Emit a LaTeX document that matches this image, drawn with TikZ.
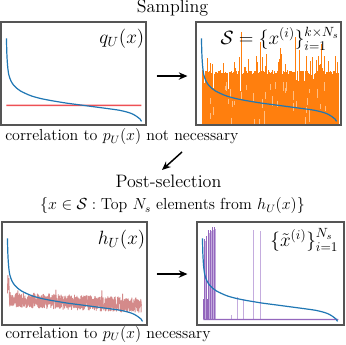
\documentclass[tikz,border=0pt]{standalone}
\usepackage{amsmath,amssymb}
\usetikzlibrary{arrows.meta}
\definecolor{tblue}{HTML}{1F77B4}
\definecolor{torange}{HTML}{FF7F0E}
\definecolor{torangel}{RGB}{255,190,130}
\definecolor{tpurple}{HTML}{9467BD}
\definecolor{tpurplel}{RGB}{196,172,222}
\definecolor{tnoise}{RGB}{212,138,138}
\definecolor{myred}{RGB}{238,80,85}
\definecolor{framec}{RGB}{85,85,85}
\newcommand{\bluecurve}{\draw[bcurve] plot[smooth,tension=0.5] coordinates {(6,17) (6.3,30) (6.8,40) (7.5,48) (8.5,54) (10.5,59.5) (13,63.5) (16,66.5) (20,69.5) (25,72) (31,74.5) (40,77) (50,79) (65,81.5) (80,83.5) (95,85.5) (110,87.5) (120,89) (128,91) (133,93) (137,95.5) (139.5,97.5) (141,100)};}
\tikzset{
  panel/.style={draw=framec, line width=0.8pt, inner sep=0pt, minimum width=108.75pt, minimum height=77.25pt},
  arr/.style={-{Stealth[length=6.5pt,width=5.5pt]}, line width=1.1pt, draw=black, fill=black},
  bcurve/.style={draw=tblue, line width=0.9pt},
  obar/.style={draw=torange, line width=0.42pt},
  obarl/.style={draw=torangel, line width=0.42pt},
  pdark/.style={draw=tpurple, line width=0.9pt},
  plight/.style={draw=tpurplel, line width=0.9pt},
  headf/.style={font=\fontsize{13.5}{16}\selectfont},
  capf/.style={font=\fontsize{12}{14}\selectfont},
  lblf/.style={font=\fontsize{14}{16}\selectfont, inner sep=0pt},
}
\begin{document}
\begin{tikzpicture}[x=0.75pt,y=-0.75pt]
\useasboundingbox (0,0) rectangle (346,345);
\fill[white] (0,0) rectangle (346,345);
% panels
\node[panel] (tl) at (73.5,73.5) {};
\node[panel] (tr) at (268.5,73.5) {};
\node[panel] (bl) at (74.5,273.5) {};
\node[panel, minimum width=110.25pt] (br) at (270.5,273.5) {};

% top-left content
\begin{scope}[shift={(tl.north west)}]
  \draw[color=myred, line width=1.1pt] (6,84) -- (141,84.01);
  \bluecurve
\end{scope}

% top-right content
\begin{scope}[shift={(tr.north west)}]
  \clip (0.5,0.5) rectangle (144.5,102.5);
  \pgfmathsetseed{11}
  \foreach \i in {0,...,226}{
    \pgfmathsetmacro\myrr{rnd}
    \pgfmathsetmacro\myrs{rnd}
    \pgfmathsetmacro\mytop{max(1,min(101,102.5-(50+4*\myrs-(\myrr<0.2)*28*\myrs+(\myrr>0.78)*14*\myrs+(\myrr>0.92)*26*\myrs+(\myrr>0.985)*30)))}
    \pgfmathsetmacro\myx{7+\i*0.6}
    \draw[obar] (\myx,102.5) -- (\myx,\mytop);
  }
  \foreach \i in {0,...,40}{
    \pgfmathsetmacro\myx{10+rnd*130}
    \pgfmathsetmacro\mya{60+rnd*38}
    \draw[obarl] (\myx,\mya) -- (\myx,\mya+4+rnd*6);
  }
  \bluecurve
\end{scope}

% bottom-left content
\begin{scope}[shift={(bl.north west)}]
  \pgfmathsetseed{5}
  \draw[draw=tnoise, line width=0.65pt, line join=round] (6,72) -- (6.4,54) -- (6.9,68) -- (7.4,57) -- (7.9,76)
    \foreach \i in {1,...,880}{ -- ({7.9+\i*0.15},{78+6*\i/880+7.5*rand-(rnd>0.95)*8*rnd}) };
  \bluecurve
\end{scope}

% bottom-right content
\begin{scope}[shift={(br.north west)}]
  \foreach \x/\y in {35/94, 41/76, 47/78, 57/9, 64/10}{
    \draw[plight] (\x,98) -- (\x,\y);
  }
  \foreach \x/\y in {7/78, 8/18, 10/15, 11/78, 12/9, 14/9, 16/6, 18/6}{
    \draw[pdark] (\x,98) -- (\x,\y);
  }
  \foreach \x/\y in {9/20, 13/12, 15/10, 17/9, 19/8}{
    \draw[plight] (\x,98) -- (\x,\y);
  }
  \draw[color=tpurple, line width=0.95pt] (7,98) -- (142,98.01);
  \bluecurve
\end{scope}

% labels in panels
\node[lblf, anchor=north east] (lq) at ([xshift=-1.5pt,yshift=-5.5pt]tl.north east) {$q_U(x)$};
\node[lblf, anchor=north east] (ls) at ([xshift=-1.5pt,yshift=-4pt]tr.north east) {$\mathcal{S}=\{x^{(i)}\}_{i=1}^{k\times N_s}$};
\node[lblf, anchor=north east] (lh) at ([xshift=-1.5pt,yshift=-6pt]bl.north east) {$h_U(x)$};
\node[lblf, anchor=north east] (lx) at ([xshift=-4.5pt,yshift=-5pt]br.north east) {$\{\tilde{x}^{(i)}\}_{i=1}^{N_s}$};

% texts
\node[headf, anchor=base] (samp) at (172.5,13) {Sampling};
\node[capf, anchor=base west, inner sep=0pt] (cap1) at (5,141) {correlation to $p_U(x)$ not necessary};
\node[headf, anchor=base] (post) at (168.5,188) {Post-selection};
\node[capf, anchor=base] (cond) at (172.5,210) {$\{x\in\mathcal{S}:\text{Top }N_s\text{ elements from }h_U(x)\}$};
\node[capf, anchor=base west, inner sep=0pt] (cap2) at (5,338) {correlation to $p_U(x)$ necessary};

% arrows
\draw[arr, shorten <=7.5pt, shorten >=6pt] ([yshift=-1.9pt]tl.east) -- ([yshift=-1.9pt]tr.west);
\draw[arr, shorten <=6.75pt, shorten >=6.75pt] ([yshift=-0.4pt]bl.east) -- ([yshift=-0.4pt]br.west);
\coordinate (d1) at (182,152);
\coordinate (d2) at (162,170);
\draw[arr] (d1) -- (d2);
\end{tikzpicture}
\end{document}
